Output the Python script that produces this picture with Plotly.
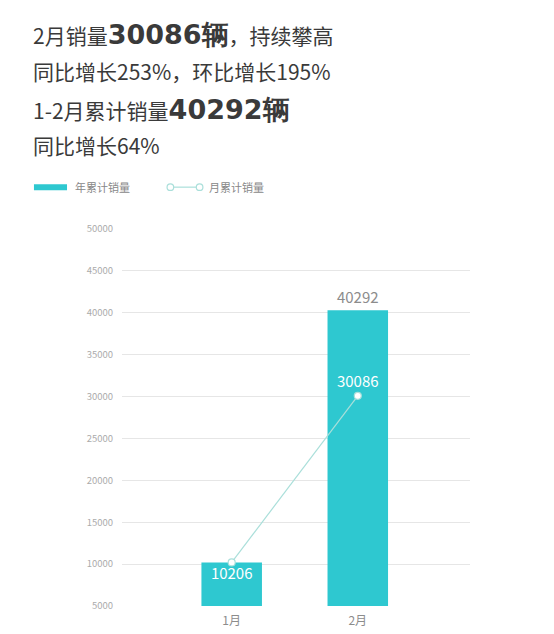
import plotly.graph_objects as go

# ─── Datos ───
months = ["1月", "2月"]
ytd_sales = [10206, 40292]      # 年累计销量
monthly_sales = [10206, 30086]  # 月累计销量
y_ticks = [5000, 10000, 15000, 20000, 25000, 30000, 35000, 40000, 45000, 50000]

BIG = "<b><span style='font-family:DejaVu Sans;font-size:27px'>{}</span></b>"
headline = [
    "2月销量" + BIG.format("30086辆") + "，持续攀高",
    "同比增长253%，环比增长195%",
    "1-2月累计销量" + BIG.format("40292辆"),
    "同比增长64%",
]

FONT = "'Noto Sans CJK SC', 'Noto Sans', sans-serif"
BAR_COLOR = "#2ec8d0"
LINE_COLOR = "#aadfda"

fig = go.Figure()

fig.add_trace(go.Bar(
    x=months,
    y=ytd_sales,
    width=0.48,
    marker=dict(color=BAR_COLOR, line=dict(width=0)),
    text=["", f"{ytd_sales[1]}"],
    textposition="outside",
    textfont=dict(color="#8c8c8c", size=15, family=FONT),
    cliponaxis=False,
    name="年累计销量",
))

fig.add_trace(go.Scatter(
    x=months,
    y=monthly_sales,
    mode="lines+markers+text",
    line=dict(color=LINE_COLOR, width=1.2),
    marker=dict(color="white", size=7, line=dict(color=LINE_COLOR, width=1.2)),
    text=[str(v) for v in monthly_sales],
    textposition=["bottom center", "top center"],
    textfont=dict(color="white", size=15, family=FONT),
    cliponaxis=False,
    name="月累计销量",
))

# ─── Titular ───
line_y = [1.517, 1.418, 1.318, 1.222]
annotations = []
for txt, yy in zip(headline, line_y):
    annotations.append(dict(
        text=txt, x=-0.262, y=yy, xref="paper", yref="paper",
        xanchor="left", yanchor="middle", showarrow=False,
        font=dict(size=21, color="#3a3a3a", family=FONT),
    ))

# ─── Leyenda manual ───
leg_y = 1.111
annotations += [
    dict(text="年累计销量", x=-0.14, y=leg_y, xref="paper", yref="paper",
         xanchor="left", yanchor="middle", showarrow=False,
         font=dict(size=11, color="#888888", family=FONT)),
    dict(text="月累计销量", x=0.243, y=leg_y, xref="paper", yref="paper",
         xanchor="left", yanchor="middle", showarrow=False,
         font=dict(size=11, color="#888888", family=FONT)),
]
shapes = [
    dict(type="rect", xref="paper", yref="paper",
         x0=-0.253, x1=-0.158, y0=leg_y - 0.008, y1=leg_y + 0.008,
         fillcolor=BAR_COLOR, line=dict(width=0)),
    dict(type="line", xref="paper", yref="paper",
         x0=0.148, x1=0.214, y0=leg_y, y1=leg_y,
         line=dict(color=LINE_COLOR, width=1.2)),
]
for cx in [0.139, 0.223]:
    shapes.append(dict(type="circle", xref="paper", yref="paper",
                       x0=cx - 0.0095, x1=cx + 0.0095,
                       y0=leg_y - 0.0088, y1=leg_y + 0.0088,
                       fillcolor="white", line=dict(color=LINE_COLOR, width=1.2)))

# la página añade ~8px de margen, se compensa en l/t
fig.update_layout(
    width=554,
    height=634,
    margin=dict(l=114, r=92, t=221, b=36),
    paper_bgcolor="white",
    plot_bgcolor="white",
    showlegend=False,
    font=dict(family=FONT),
    annotations=annotations,
    shapes=shapes,
    xaxis=dict(
        type="category",
        range=[-0.87, 1.89],
        showgrid=False,
        showline=False,
        ticks="",
        tickfont=dict(size=12, color="#8c8c8c"),
        ticklabelstandoff=6,
    ),
    yaxis=dict(
        range=[5000, 50000],
        tickvals=y_ticks,
        tickformat="d",
        showgrid=True,
        gridcolor="#e6e6e6",
        gridwidth=1,
        zeroline=False,
        showline=False,
        ticks="",
        tickfont=dict(size=9.5, color="#ababab"),
        ticklabelstandoff=8,
    ),
)

fig.write_html("out.html")
